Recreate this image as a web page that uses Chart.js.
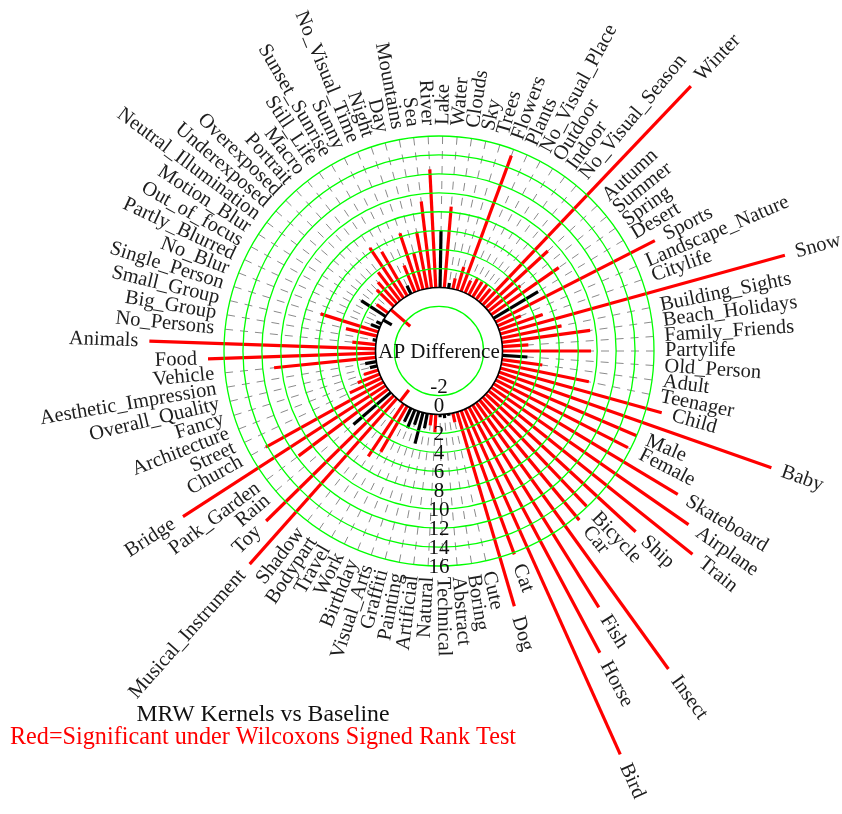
<!DOCTYPE html>
<html>
<head>
<meta charset="utf-8">
<script src="https://cdn.jsdelivr.net/npm/chart.js@4.4.1/dist/chart.umd.min.js"></script>
<style>
  html, body { margin: 0; padding: 0; background: #ffffff; }
  canvas { display: block; }
</style>
</head>
<body>
<canvas id="chart" width="842" height="814"></canvas>
<script>
// ---- data (counter-clockwise from the right, starting with Partylife) ----
const categories = [
  'Partylife','Family_Friends','Beach_Holidays','Building_Sights','Snow','Citylife',
  'Landscape_Nature','Sports','Desert','Spring','Summer','Autumn','Winter',
  'No_Visual_Season','Indoor','Outdoor','No_Visual_Place','Plants','Flowers','Trees',
  'Sky','Clouds','Water','Lake','River','Sea','Mountains','Day','Night',
  'No_Visual_Time','Sunny','Sunset_Sunrise','Still_Life','Macro','Portrait',
  'Overexposed','Underexposed','Neutral_Illumination','Motion_Blur','Out_of_focus',
  'Partly_Blurred','No_Blur','Single_Person','Small_Group','Big_Group','No_Persons',
  'Animals','Food','Vehicle','Aesthetic_Impression','Overall_Quality','Fancy',
  'Architecture','Street','Church','Bridge','Park_Garden','Rain','Toy',
  'Musical_Instrument','Shadow','Bodypart','Travel','Work','Birthday','Visual_Arts',
  'Graffiti','Painting','Artificial','Natural','Technical','Abstract','Boring','Cute',
  'Dog','Cat','Bird','Horse','Fish','Insect','Car','Bicycle','Ship','Train',
  'Airplane','Skateboard','Female','Male','Baby','Child','Teenager','Adult','Old_Person'
];
const apDifference = [
  9.35, 2.75, 9.4, 6.5, 31.2, 4.9,
  2.7, 18.9, 5.5, 8.7, 4.3, 8.9, 31.9,
  1.8, 2.0, 1.9, 2.05, 1.45, 15.3, 2.55,
  1.15, 0.55, 8.6, 6.0, 12.5, 9.2, 6.1, 4.0, 6.4,
  3.05, 0.97, 5.4, 6.4, 3.8, 3.0,
  2.5, -2.7, 1.5, 3.07, -1.0,
  0.6, 1.0, 6.4, 3.4, 0.4, 2.5,
  23.9, 17.7, 10.8, 1.2, 0.8, 1.6,
  2.5, 3.7, 14.2, 25.5, 11.8, 5.2, 18.9,
  23.4, -1.5, 6.7, 5.6, 1.6, 2.1, 1.5,
  3.4, 1.6, 1.2, 1.9, 0.3, 0.4, 0.2, 1.0,
  21.4, 16.2, 40.0, 29.4, 25.2, 34.7, 16.5, 15.9, 21.5, 27.6,
  25.4, 22.7, 15.7, 16.0, 30.5, 17.7, 9.45, 4.3, 2.65
];
// 1 = significant under Wilcoxon signed rank test (red), 0 = not (black)
const significant = [
  1,1,1,1,1,1,
  1,1,0,1,1,1,1,
  1,1,1,1,1,1,1,
  1,0,1,0,1,1,1,1,1,
  1,0,1,1,1,1,
  1,1,1,0,0,
  0,0,1,1,0,1,
  1,1,1,0,0,1,
  1,1,1,1,1,0,1,
  1,1,1,1,0,0,0,
  0,0,1,1,0,0,0,1,
  1,1,1,1,1,1,1,1,1,1,
  1,1,1,1,1,1,1,1,0
];
const tickValues = [-2, 0, 2, 4, 6, 8, 10, 12, 14, 16];
const axisTitle = 'AP Difference';
const chartTitle = 'MRW Kernels vs Baseline';
const chartSubtitle = 'Red=Significant under Wilcoxons Signed Rank Test';

// ---- build the tables Chart.js needs (radar indices run clockwise) ----
const order = [0];
for (let i = categories.length - 1; i >= 1; i--) order.push(i);
const chartLabels = order.map(i => categories[i]);
const chartValues = order.map(i => apDifference[i]);
const chartColors = order.map(i => significant[i] ? '#ff0000' : '#000000');

const SERIF = '"Liberation Serif", "Times New Roman", serif';

const radialBars = {
  id: 'radialBars',
  beforeDatasetsDraw(chart) {
    const s = chart.scales.r;
    const ctx = chart.ctx;
    ctx.save();
    ctx.strokeStyle = '#8a8a8a';
    ctx.lineWidth = 1;
    ctx.setLineDash([8, 7]);
    for (let j = 0; j < chartLabels.length; j++) {
      const a = s.getPointPositionForValue(j, s.max);
      const b = s.getPointPositionForValue(j, 0);
      ctx.beginPath();
      ctx.moveTo(a.x, a.y);
      ctx.lineTo(b.x, b.y);
      ctx.stroke();
    }
    ctx.restore();
  },
  afterDatasetsDraw(chart) {
    const s = chart.scales.r;
    const ctx = chart.ctx;
    const meta = chart.getDatasetMeta(0);
    ctx.save();
    ctx.lineWidth = 3.2;
    ctx.lineCap = 'butt';
    meta.data.forEach((pt, j) => {
      const base = s.getPointPositionForValue(j, 0);
      ctx.strokeStyle = chartColors[j];
      ctx.beginPath();
      ctx.moveTo(base.x, base.y);
      ctx.lineTo(pt.x, pt.y);
      ctx.stroke();
    });
    ctx.restore();
  },
  afterDraw(chart) {
    const s = chart.scales.r;
    const ctx = chart.ctx;
    ctx.save();
    // category labels, rotated radially, beyond the outer ring or the bar end
    ctx.fillStyle = '#1e1e1e';
    ctx.font = '20.5px ' + SERIF;
    ctx.textBaseline = 'middle';
    for (let j = 0; j < chartLabels.length; j++) {
      const r = s.getDistanceFromCenterForValue(Math.max(chartValues[j], s.max)) + 11;
      const ang = s.getIndexAngle(j) - Math.PI / 2;
      const x = s.xCenter + Math.cos(ang) * r;
      const y = s.yCenter + Math.sin(ang) * r;
      ctx.save();
      ctx.translate(x, y);
      if (Math.cos(ang) >= -1e-9) {
        ctx.rotate(ang);
        ctx.textAlign = 'left';
      } else {
        ctx.rotate(ang + Math.PI);
        ctx.textAlign = 'right';
      }
      ctx.fillText(chartLabels[j], 0, 0);
      ctx.restore();
    }
    // radial tick labels straight down from the centre
    ctx.fillStyle = '#111';
    ctx.font = '21px ' + SERIF;
    ctx.textAlign = 'center';
    ctx.textBaseline = 'middle';
    tickValues.forEach(t => {
      const r = s.getDistanceFromCenterForValue(t);
      const off = t <= 0 ? -8.5 : 1;
      ctx.fillText(String(t), s.xCenter, s.yCenter + r + off);
    });
    // axis title at the centre
    ctx.textBaseline = 'alphabetic';
    ctx.fillText(axisTitle, s.xCenter, s.yCenter + 7);
    // titles
    ctx.font = '23.8px ' + SERIF;
    ctx.fillStyle = '#111';
    ctx.fillText(chartTitle, 263, 721);
    ctx.font = '24.2px ' + SERIF;
    ctx.fillStyle = '#ff0000';
    ctx.fillText(chartSubtitle, 263, 744);
    ctx.restore();
  }
};

new Chart(document.getElementById('chart'), {
  type: 'radar',
  data: {
    labels: chartLabels,
    datasets: [{
      label: 'AP Difference',
      data: chartValues,
      showLine: false,
      fill: false,
      borderWidth: 0,
      borderColor: 'rgba(0,0,0,0)',
      backgroundColor: 'rgba(0,0,0,0)',
      pointRadius: 0,
      pointHoverRadius: 0,
      pointHitRadius: 0,
      clip: false
    }]
  },
  options: {
    responsive: false,
    animation: false,
    events: [],
    devicePixelRatio: 1,
    layout: { padding: { left: 139, right: 103, top: 136, bottom: 247 } },
    plugins: { legend: { display: false }, tooltip: { enabled: false }, title: { display: false } },
    scales: {
      r: {
        min: -6.706,
        max: 16,
        startAngle: 90,
        ticks: { display: false },
        pointLabels: { display: false },
        angleLines: { display: false },
        grid: {
          z: 1,
          circular: true,
          color: (c) => (c.tick && c.tick.value === 0) ? '#000000' : '#00ff00',
          lineWidth: (c) => (c.tick && c.tick.value === 0) ? 1.6 : 1.3
        },
        afterBuildTicks: (scale) => { scale.ticks = tickValues.map(v => ({ value: v })); }
      }
    }
  },
  plugins: [radialBars]
});
</script>
</body>
</html>
